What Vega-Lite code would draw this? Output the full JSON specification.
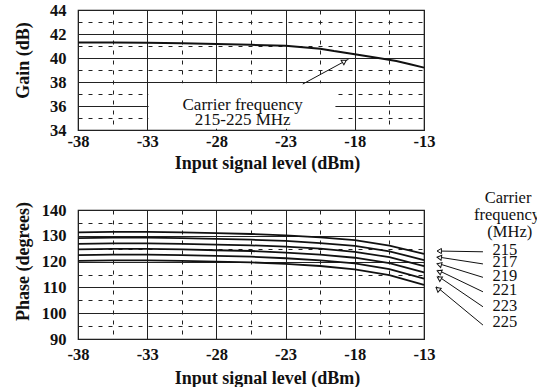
{
  "$schema": "https://vega.github.io/schema/vega-lite/v6.json",
  "padding": {"left": 13, "top": 1, "right": 0, "bottom": 0},
  "background": "white",
  "bounds": "flush",
  "spacing": 80,
  "config": {
    "view": {"stroke": "#111", "strokeWidth": 1.2},
    "axis": {
      "labelFont": "'Liberation Serif', 'Times New Roman', 'DejaVu Serif', serif", "labelFontWeight": "bold", "labelFontSize": 16.5, "labelColor": "#111",
      "titleFont": "'Liberation Serif', 'Times New Roman', 'DejaVu Serif', serif", "titleFontWeight": "bold", "titleFontSize": 18, "titleColor": "#111",
      "domain": false, "ticks": false, "grid": true, "gridColor": "#222", "gridWidth": 1,
      "labelOverlap": false, "labelFlush": false
    },
    "text": {"font": "'Liberation Serif', 'Times New Roman', 'DejaVu Serif', serif", "fontSize": 16.5, "color": "#111"}
  },
  "vconcat": [
    {
      "width": 346,
      "height": 120,
      "encoding": {
        "x": {"field": "level", "type": "quantitative", "scale": {"domain": [-38, -13], "nice": false, "zero": false},
          "axis": {"values": [-38, -35.5, -33, -30.5, -28, -25.5, -23, -20.5, -18, -15.5, -13],
            "labelExpr": "(datum.value + 38) % 5 === 0 ? '-' + abs(datum.value) : ''",
            "gridDash": {"condition": {"test": "(datum.value + 38) % 5 !== 0", "value": [4, 6]}, "value": []},
            "title": "Input signal level (dBm)", "labelPadding": 3, "titlePadding": 5, "titleX": 189}},
        "y": {"field": "gain", "type": "quantitative", "scale": {"domain": [34, 44], "nice": false, "zero": false},
          "axis": {"values": [34, 35, 36, 37, 38, 39, 40, 41, 42, 43, 44],
            "labelExpr": "datum.value % 2 === 0 ? datum.label : ''",
            "gridDash": {"condition": {"test": "datum.value % 2 !== 0", "value": [4, 6]}, "value": []},
            "title": "Gain (dB)", "labelPadding": 12, "titlePadding": 17, "titleY": 50}}
      },
      "layer": [
        {
          "data": {"values": [
            {"level": -32.9, "gain": 34.1, "level2": -19.4, "gain2": 37.9}
          ]},
          "mark": {"type": "rect", "color": "white"},
          "encoding": {"x2": {"field": "level2"}, "y2": {"field": "gain2"}}
        },
        {
          "data": {"values": [
            {"level": -38, "gain": 41.3}, {"level": -35.5, "gain": 41.3}, {"level": -33, "gain": 41.28},
            {"level": -30.5, "gain": 41.22}, {"level": -28, "gain": 41.16}, {"level": -25.5, "gain": 41.1},
            {"level": -23, "gain": 41.02}, {"level": -20.5, "gain": 40.78}, {"level": -19.5, "gain": 40.58},
            {"level": -18, "gain": 40.32}, {"level": -16.3, "gain": 40.0}, {"level": -15, "gain": 39.75},
            {"level": -14, "gain": 39.48}, {"level": -13, "gain": 39.2}
          ]},
          "mark": {"type": "line", "color": "#111", "strokeWidth": 2}
        },
        {
          "data": {"values": [
            {"level": -21.76, "gain": 37.83, "level2": -18.45, "gain2": 39.9}
          ]},
          "mark": {"type": "rule", "color": "#111", "strokeWidth": 1},
          "encoding": {"x2": {"field": "level2"}, "y2": {"field": "gain2"}}
        },
        {
          "data": {"values": [{"level": -18.75, "gain": 39.72}]},
          "mark": {"type": "point", "shape": "triangle-right", "angle": -32, "size": 28, "filled": true, "fill": "white", "stroke": "#111", "strokeWidth": 1, "opacity": 1}
        },
        {
          "data": {"values": [
            {"level": -26.1, "gain": 36.1, "label": "Carrier frequency"},
            {"level": -26.1, "gain": 34.85, "label": "215-225 MHz"}
          ]},
          "mark": {"type": "text", "fontSize": 17},
          "encoding": {"text": {"field": "label"}}
        }
      ]
    },
    {
      "width": 346,
      "height": 129,
      "encoding": {
        "x": {"field": "level", "type": "quantitative", "scale": {"domain": [-38, -13], "nice": false, "zero": false},
          "axis": {"values": [-38, -35.5, -33, -30.5, -28, -25.5, -23, -20.5, -18, -15.5, -13],
            "labelExpr": "(datum.value + 38) % 5 === 0 ? '-' + abs(datum.value) : ''",
            "gridDash": {"condition": {"test": "(datum.value + 38) % 5 !== 0", "value": [4, 6]}, "value": []},
            "title": "Input signal level (dBm)", "labelPadding": 7, "titlePadding": 7, "titleX": 189}},
        "y": {"field": "phase", "type": "quantitative", "scale": {"domain": [90, 140], "nice": false, "zero": false},
          "axis": {"values": [90, 95, 100, 105, 110, 115, 120, 125, 130, 135, 140],
            "labelExpr": "datum.value % 10 === 0 ? datum.label : ''",
            "gridDash": {"condition": {"test": "datum.value % 10 !== 0", "value": [4, 6]}, "value": []},
            "title": "Phase (degrees)", "labelPadding": 12, "titlePadding": 9, "titleY": 51}}
      },
      "layer": [
        {
          "data": {"values": [
            {"freq": 215, "level": -38, "phase": 131.3}, {"freq": 215, "level": -35.5, "phase": 131.5}, {"freq": 215, "level": -33, "phase": 131.5},
            {"freq": 215, "level": -30.5, "phase": 131.3}, {"freq": 215, "level": -28, "phase": 131.0}, {"freq": 215, "level": -25.5, "phase": 130.7},
            {"freq": 215, "level": -23, "phase": 130.2}, {"freq": 215, "level": -20.5, "phase": 129.4}, {"freq": 215, "level": -18, "phase": 128.3},
            {"freq": 215, "level": -15.5, "phase": 126.2}, {"freq": 215, "level": -13, "phase": 123.0},
            {"freq": 217, "level": -38, "phase": 129.1}, {"freq": 217, "level": -35.5, "phase": 129.3}, {"freq": 217, "level": -33, "phase": 129.3},
            {"freq": 217, "level": -30.5, "phase": 129.1}, {"freq": 217, "level": -28, "phase": 128.8}, {"freq": 217, "level": -25.5, "phase": 128.5},
            {"freq": 217, "level": -23, "phase": 128.0}, {"freq": 217, "level": -20.5, "phase": 127.2}, {"freq": 217, "level": -18, "phase": 126.1},
            {"freq": 217, "level": -15.5, "phase": 124.0}, {"freq": 217, "level": -13, "phase": 120.6},
            {"freq": 219, "level": -38, "phase": 126.9}, {"freq": 219, "level": -35.5, "phase": 127.1}, {"freq": 219, "level": -33, "phase": 127.1},
            {"freq": 219, "level": -30.5, "phase": 126.9}, {"freq": 219, "level": -28, "phase": 126.6}, {"freq": 219, "level": -25.5, "phase": 126.3},
            {"freq": 219, "level": -23, "phase": 125.8}, {"freq": 219, "level": -20.5, "phase": 125.0}, {"freq": 219, "level": -18, "phase": 123.8},
            {"freq": 219, "level": -15.5, "phase": 121.7}, {"freq": 219, "level": -13, "phase": 118.2},
            {"freq": 221, "level": -38, "phase": 124.7}, {"freq": 221, "level": -35.5, "phase": 124.9}, {"freq": 221, "level": -33, "phase": 124.9},
            {"freq": 221, "level": -30.5, "phase": 124.7}, {"freq": 221, "level": -28, "phase": 124.4}, {"freq": 221, "level": -25.5, "phase": 124.1},
            {"freq": 221, "level": -23, "phase": 123.5}, {"freq": 221, "level": -20.5, "phase": 122.7}, {"freq": 221, "level": -18, "phase": 121.5},
            {"freq": 221, "level": -15.5, "phase": 119.4}, {"freq": 221, "level": -13, "phase": 115.8},
            {"freq": 223, "level": -38, "phase": 122.5}, {"freq": 223, "level": -35.5, "phase": 122.7}, {"freq": 223, "level": -33, "phase": 122.7},
            {"freq": 223, "level": -30.5, "phase": 122.5}, {"freq": 223, "level": -28, "phase": 122.2}, {"freq": 223, "level": -25.5, "phase": 121.9},
            {"freq": 223, "level": -23, "phase": 121.3}, {"freq": 223, "level": -20.5, "phase": 120.5}, {"freq": 223, "level": -18, "phase": 119.3},
            {"freq": 223, "level": -15.5, "phase": 117.1}, {"freq": 223, "level": -13, "phase": 113.4},
            {"freq": 225, "level": -38, "phase": 120.3}, {"freq": 225, "level": -35.5, "phase": 120.5}, {"freq": 225, "level": -33, "phase": 120.5},
            {"freq": 225, "level": -30.5, "phase": 120.3}, {"freq": 225, "level": -28, "phase": 120.0}, {"freq": 225, "level": -25.5, "phase": 119.7},
            {"freq": 225, "level": -23, "phase": 119.1}, {"freq": 225, "level": -20.5, "phase": 118.3}, {"freq": 225, "level": -18, "phase": 117.0},
            {"freq": 225, "level": -15.5, "phase": 114.8}, {"freq": 225, "level": -13, "phase": 111.0}
          ]},
          "mark": {"type": "line", "color": "#111", "strokeWidth": 1.8},
          "encoding": {"detail": {"field": "freq", "type": "nominal"}}
        },
        {
          "data": {"values": [
            {"freq": 215, "level": -12.0, "phase": 124.1, "level2": -8.74, "phase2": 123.8},
            {"freq": 217, "level": -12.0, "phase": 121.8, "level2": -8.74, "phase2": 119.1},
            {"freq": 219, "level": -12.0, "phase": 119.3, "level2": -8.74, "phase2": 113.9},
            {"freq": 221, "level": -12.0, "phase": 116.7, "level2": -8.74, "phase2": 108.3},
            {"freq": 223, "level": -12.0, "phase": 114.4, "level2": -8.74, "phase2": 102.5},
            {"freq": 225, "level": -12.1, "phase": 110.3, "level2": -8.74, "phase2": 95.4}
          ]},
          "mark": {"type": "rule", "color": "#111", "strokeWidth": 1},
          "encoding": {"x2": {"field": "level2"}, "y2": {"field": "phase2"}}
        },
        {
          "data": {"values": [
            {"freq": 215, "level": -11.9, "phase": 124.1},
            {"freq": 217, "level": -11.9, "phase": 121.6},
            {"freq": 219, "level": -11.9, "phase": 118.9},
            {"freq": 221, "level": -11.9, "phase": 116.1},
            {"freq": 223, "level": -11.9, "phase": 113.6},
            {"freq": 225, "level": -12.0, "phase": 109.4}
          ]},
          "mark": {"type": "point", "shape": "triangle-left", "size": 26, "filled": true, "fill": "white", "stroke": "#111", "strokeWidth": 1, "opacity": 1},
          "encoding": {"angle": {"field": "freq", "type": "quantitative", "scale": {"domain": [215, 225], "range": [0, 39]}}}
        },
        {
          "data": {"values": [
            {"level": -7.15, "phase": 124.5, "label": "215"},
            {"level": -7.15, "phase": 119.8, "label": "217"},
            {"level": -7.15, "phase": 114.4, "label": "219"},
            {"level": -7.15, "phase": 109.0, "label": "221"},
            {"level": -7.15, "phase": 102.8, "label": "223"},
            {"level": -7.15, "phase": 96.6, "label": "225"},
            {"level": -6.93, "phase": 144.5, "label": "Carrier"},
            {"level": -7.0, "phase": 137.9, "label": "frequency"},
            {"level": -6.8, "phase": 131.4, "label": "(MHz)"}
          ]},
          "mark": {"type": "text", "fontSize": 16.5},
          "encoding": {"text": {"field": "label"}}
        }
      ]
    }
  ]
}
